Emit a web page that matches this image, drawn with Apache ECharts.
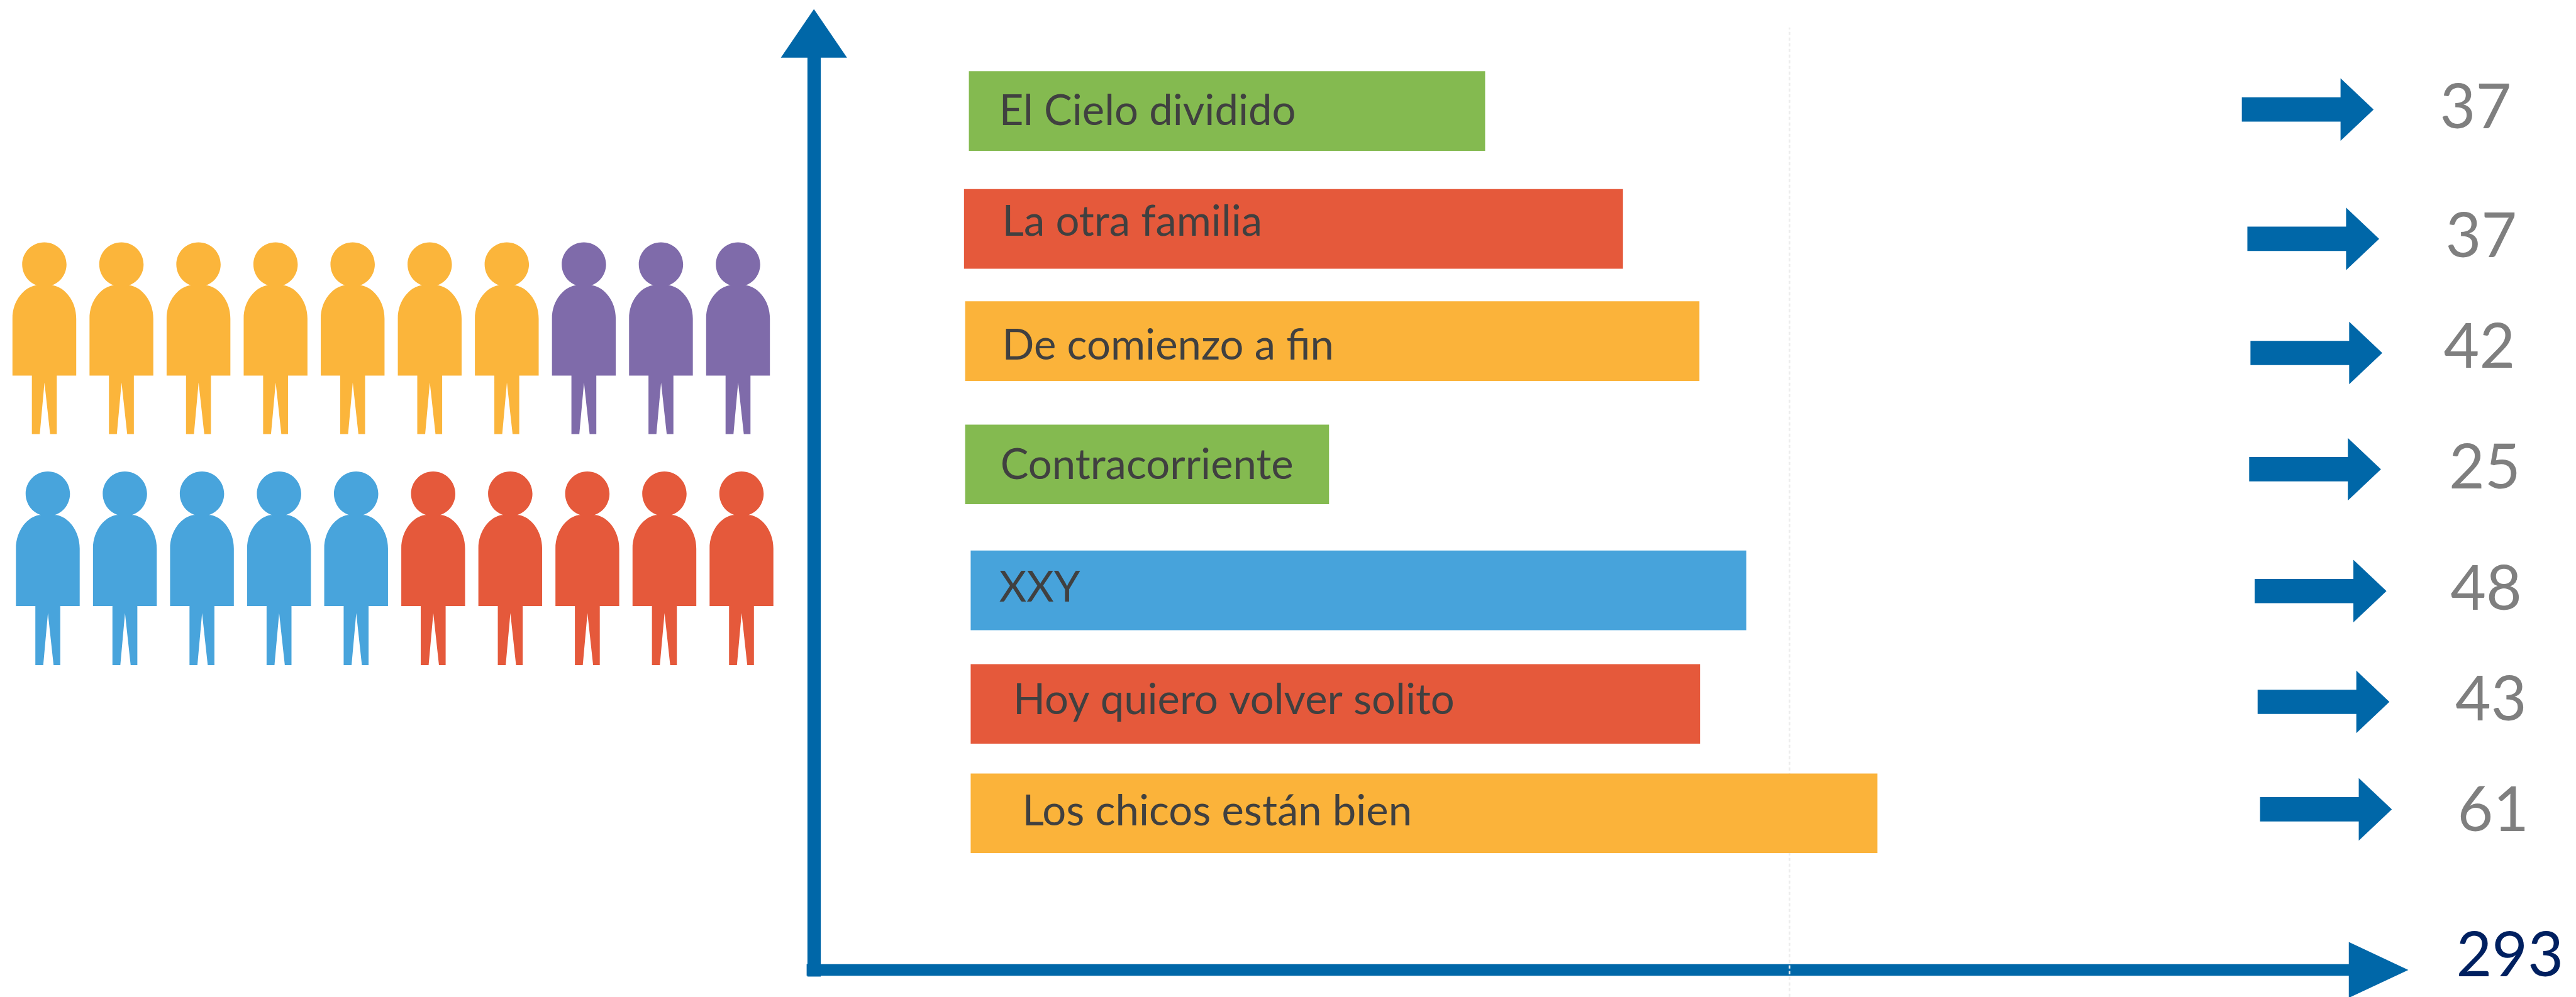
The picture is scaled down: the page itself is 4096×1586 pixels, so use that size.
<!DOCTYPE html>
<html><head><meta charset="utf-8">
<style>html,body{margin:0;padding:0;background:#fff}#c{width:4096px;height:1586px}</style>
<script src="https://cdn.jsdelivr.net/npm/echarts@6/dist/echarts.min.js"></script>
</head><body><div id="c"></div>
<script>
// ---- data ----
const categories = ['El Cielo dividido','La otra familia','De comienzo a fin','Contracorriente','XXY','Hoy quiero volver solito','Los chicos están bien'];
const counts = [37,37,42,25,48,43,61];
const total = 293;
const barStarts  = [9.53,9.23,9.30,9.30,9.64,9.64,9.64];
const barLengths = [31.75,40.53,45.16,22.38,47.70,44.86,55.77];
const rowLevels  = [7.337,6.330,5.371,4.318,3.242,2.272,1.338];
const labelX = [11.39,11.58,11.58,11.47,11.39,12.25,12.81];
const labelLevels = [7.335,6.39,5.33,4.31,3.26,2.30,1.35];
const arrowTails  = [87.82,88.16,88.35,88.27,88.61,88.79,88.94];
const arrowLevels = [7.350,6.245,5.270,4.277,3.236,2.290,1.372];
const countX = [102.2,102.54,102.43,102.76,102.84,103.14,103.28];
const countLevels = [7.361,6.256,5.313,4.282,3.245,2.302,1.358];
const totalPoint = [104.3,0.118];
const gridValue = 60;
const gridSpan = [-0.23,8.05];
const peopleRowTop = [['#FBB53B',7],['#7F6BAA',3]];
const peopleRowBottom = [['#48A4DC',5],['#E5593B',5]];
const barColors = ['#84BA50','#E5593B','#FBB33A','#84BA50','#47A3DB','#E5593B','#FBB33A'];

// ---- styling ----
const k = 0.9658, BLUE = '#0067A8';
const personPath = 'path://M0 126C0 95 20 74 38 71L67 71C85 74 105 95 105 126L105 219.5L73 219.5L73 316L62 316L52.7 231L45 316L32 316L32 219.5L0 219.5ZM52.5 0C72.7 0 89 16.3 89 36.5C89 56.7 72.7 73 52.5 73C32.3 73 16 56.7 16 36.5C16 16.3 32.3 0 52.5 0Z';

function peopleSeries(row, level, shift, h){
  let n = 0;
  return row.map(([color,count])=>{
    const pts=[]; for(let i=0;i<count;i++){pts.push([n+shift,level]);n++;}
    return {type:'scatter',xAxisIndex:1,yAxisIndex:1,clip:false,silent:true,symbol:personPath,symbolSize:[105*k,h*k],itemStyle:{color,opacity:1},data:pts};
  });
}
const hiddenAxis = {type:'value',show:false};
const option = {
  animation:false, backgroundColor:'#fff',
  grid:[
    {left:1294.2,top:53.1,width:2487.9,height:1489.8,containLabel:false},
    {left:70.5,top:538,width:1103,height:366,containLabel:false}
  ],
  xAxis:[
    {type:'value',gridIndex:0,min:0,max:96.23,position:'bottom',
     axisLabel:{show:false},axisTick:{show:false},splitLine:{show:false},
     axisLine:{show:true,onZero:false,symbol:['none','triangle'],symbolSize:[92*k,98*k],lineStyle:{color:BLUE,width:19*k,cap:'square'}}},
    {...hiddenAxis,gridIndex:1,min:0,max:9}
  ],
  yAxis:[
    {type:'value',gridIndex:0,min:0,max:8,position:'left',
     axisLabel:{show:false},axisTick:{show:false},splitLine:{show:false},
     axisLine:{show:true,onZero:false,symbol:['none','triangle'],symbolSize:[109*k,80*k],lineStyle:{color:BLUE,width:22*k,cap:'square'}}},
    {...hiddenAxis,gridIndex:1,min:0,max:1}
  ],
  series:[
    // faint dashed gridline
    {type:'custom',silent:true,clip:false,z:1,data:[[gridValue,gridSpan[0],gridSpan[1]]],
     renderItem:(p,api)=>{
       const a=api.coord([api.value(0),api.value(1)]),b=api.coord([api.value(0),api.value(2)]);
       return {type:'line',shape:{x1:a[0],y1:a[1],x2:b[0],y2:b[1]},style:{stroke:'#ececec',lineWidth:2.5,lineDash:[5,4]}};
     }},
    // squared corner where the two axes meet
    {type:'custom',silent:true,clip:false,z:5,data:[[0,0]],
     renderItem:(p,api)=>{
       const o=api.coord([api.value(0),api.value(1)]);
       return {type:'rect',shape:{x:o[0]-12*k,y:o[1]-9.5*k,width:23*k,height:19*k},style:{fill:BLUE}};
     }},
    // bars with their titles
    {type:'custom',silent:true,clip:false,z:2,
     data:categories.map((c,i)=>[barStarts[i],barLengths[i],rowLevels[i],labelX[i],labelLevels[i]]),
     renderItem:(p,api)=>{
       const i=p.dataIndex;
       const a=api.coord([api.value(0),api.value(2)]);
       const b=api.coord([api.value(0)+api.value(1),api.value(2)]);
       const h=api.size([0,0.68])[1];
       const t=api.coord([api.value(3),api.value(4)]);
       return {type:'group',children:[
         {type:'rect',shape:{x:a[0],y:a[1]-h/2,width:b[0]-a[0],height:h},style:{fill:barColors[i]}},
         {type:'text',x:t[0],y:t[1],style:{text:categories[i],fontFamily:'Lato',fontSize:67,fill:'#404040',align:'left',verticalAlign:'middle'}}
       ]};
     }},
    // block arrows with counts
    {type:'custom',silent:true,clip:false,z:3,
     data:counts.map((c,i)=>[arrowTails[i],arrowLevels[i],countX[i],countLevels[i],c]),
     renderItem:(p,api)=>{
       const a=api.coord([api.value(0),api.value(1)]);
       const t=api.coord([api.value(2),api.value(3)]);
       const x=a[0],y=a[1],sh=20*k,hh=51.5*k,base=162.5*k,tip=217*k;
       return {type:'group',children:[
         {type:'polygon',shape:{points:[[x,y-sh],[x+base,y-sh],[x+base,y-hh],[x+tip,y],[x+base,y+hh],[x+base,y+sh],[x,y+sh]]},style:{fill:BLUE}},
         {type:'text',x:t[0],y:t[1],style:{text:String(api.value(4)),fontFamily:'Lato',fontSize:98,fill:'#7F7F7F',align:'center',verticalAlign:'middle'}}
       ]};
     }},
    // total
    {type:'custom',silent:true,clip:false,z:3,data:[[totalPoint[0],totalPoint[1],total]],
     renderItem:(p,api)=>{
       const t=api.coord([api.value(0),api.value(1)]);
       return {type:'text',x:t[0],y:t[1],style:{text:String(api.value(2)),fontFamily:'Lato',fontSize:98,fill:'#002060',align:'center',verticalAlign:'middle'}};
     }},
    ...peopleSeries(peopleRowTop,1,0,316),
    ...peopleSeries(peopleRowBottom,0,0.045,319)
  ]
};
echarts.init(document.getElementById('c'),null,{renderer:'canvas'}).setOption(option);
</script></body></html>
